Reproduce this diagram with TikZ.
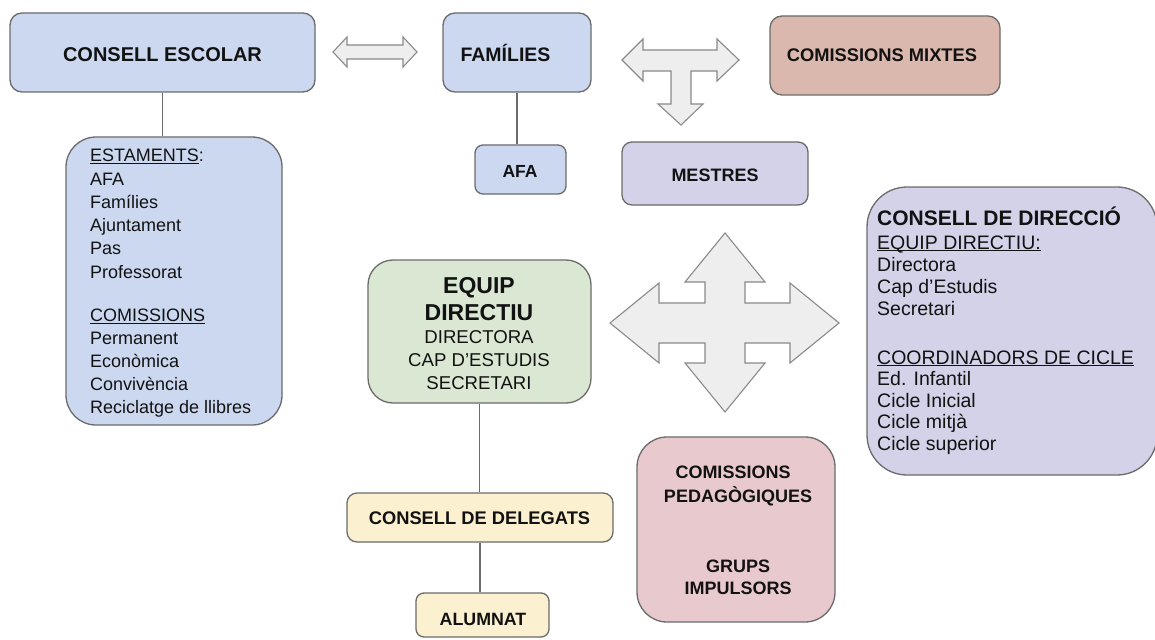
\documentclass[tikz,border=0pt]{standalone}
\usepackage{fontspec}
\setmainfont{Liberation Sans}
\definecolor{bluebox}{HTML}{CBD8F0}
\definecolor{lavbox}{HTML}{D3D2E8}
\definecolor{rosebox}{HTML}{DAB8AE}
\definecolor{greenbox}{HTML}{D9E7D3}
\definecolor{yellowbox}{HTML}{FBF0CF}
\definecolor{pinkbox}{HTML}{E8C9CD}
\definecolor{arrowfill}{HTML}{EEEEEE}
\definecolor{arrowline}{HTML}{8A8A8A}
\definecolor{boxline}{HTML}{6B6B6B}
\definecolor{txtc}{HTML}{121212}
\newcommand{\myul}[1]{\setbox0\hbox{#1}\rlap{\rule[-2.2pt]{\wd0}{1.1pt}}\box0}
\begin{document}
\begin{tikzpicture}[x=1pt,y=-1pt,
  box/.style={draw=boxline, line width=1.3pt, inner sep=0pt},
  lab/.style={inner sep=0pt, text=txtc, anchor=base},
  lst/.style={inner sep=0pt, text=txtc, anchor=base west},
  conn/.style={draw=boxline, line width=1.2pt},
  bigarrow/.style={draw=arrowline, fill=arrowfill, line width=1.1pt, line join=miter}]
\useasboundingbox[fill=white] (0,0) rectangle (1155,639);

% boxes
\node[box, fill=bluebox, minimum width=305pt, minimum height=79pt, rounded corners=12pt] (ce) at (162.5,52.5) {};
\node[box, fill=bluebox, minimum width=216pt, minimum height=288pt, rounded corners=30pt] (est) at (174,281) {};
\node[box, fill=bluebox, minimum width=148pt, minimum height=79pt, rounded corners=12pt] (fam) at (517,52.5) {};
\node[box, fill=bluebox, minimum width=91pt, minimum height=49pt, rounded corners=8pt] (afa) at (520.5,169.5) {};
\node[box, fill=rosebox, minimum width=230pt, minimum height=79pt, rounded corners=12pt] (cm) at (885,55.5) {};
\node[box, fill=lavbox, minimum width=186pt, minimum height=63pt, rounded corners=10pt] (mes) at (715,173.5) {};
\node[box, fill=lavbox, minimum width=290pt, minimum height=288pt, rounded corners=40pt] (cdd) at (1012,331) {};
\node[box, fill=greenbox, minimum width=223pt, minimum height=143pt, rounded corners=25pt] (ed) at (479.5,331.5) {};
\node[box, fill=yellowbox, minimum width=266pt, minimum height=49pt, rounded corners=10pt] (cdel) at (480,517.5) {};
\node[box, fill=yellowbox, minimum width=133pt, minimum height=44pt, rounded corners=8pt] (alu) at (482.5,615) {};
\node[box, fill=pinkbox, minimum width=198pt, minimum height=185pt, rounded corners=30pt] (ped) at (736,529.5) {};

% connectors
\draw[conn] (ce.south) -- (ce.south |- est.north);
\draw[conn] (fam.south) -- (fam.south |- afa.north);
\draw[conn] (ed.south) -- (ed.south |- cdel.north);
\draw[conn] (cdel.south) -- (cdel.south |- alu.north);

% block arrows
\draw[bigarrow] (333,52) -- (347,37) -- (347,45) -- (403,45) -- (403,37) -- (417,52) -- (403,67) -- (403,59) -- (347,59) -- (347,67) -- cycle;
\draw[bigarrow] (622,60) -- (643,39) -- (643,50) -- (717,50) -- (717,39) -- (739,60) -- (717,81) -- (717,71) -- (691,71) -- (691,104) -- (703,104) -- (681,125) -- (658,104) -- (671,104) -- (671,71) -- (643,71) -- (643,81) -- cycle;
\draw[bigarrow] (610,323) -- (659,283) -- (659,303) -- (705,303) -- (705,282) -- (685,282) -- (725,233) -- (765,282) -- (745,282) -- (745,303) -- (790,303) -- (790,283) -- (839,323) -- (790,363) -- (790,343) -- (745,343) -- (745,363) -- (765,363) -- (725,412) -- (685,363) -- (705,363) -- (705,343) -- (659,343) -- (659,363) -- cycle;

% single labels
\node[lab, font=\fontsize{20}{24}\selectfont\bfseries] (tce) at (162.5,61.7) {CONSELL ESCOLAR};
\node[lab, font=\fontsize{19.5}{23}\selectfont\bfseries] (tfam) at (505.5,61.7) {FAMÍLIES};
\node[lab, font=\fontsize{17.5}{21}\selectfont\bfseries] (tafa) at (520,177) {AFA};
\node[lab, font=\fontsize{18}{22}\selectfont\bfseries] (tmes) at (715,182) {MESTRES};
\node[lab, font=\fontsize{18.3}{22}\selectfont\bfseries] (tcm) at (882,62) {COMISSIONS MIXTES};
\node[lab, font=\fontsize{18.3}{22}\selectfont\bfseries] (tcdel) at (479.5,524) {CONSELL DE DELEGATS};
\node[lab, font=\fontsize{17.8}{21}\selectfont\bfseries] (talu) at (483,625) {ALUMNAT};

% equip directiu
\node[lab, font=\fontsize{23}{27}\selectfont\bfseries] (ed1) at (479,293) {EQUIP};
\node[lab, font=\fontsize{23}{27}\selectfont\bfseries] (ed2) at (479,320) {DIRECTIU};
\node[lab, font=\fontsize{18.6}{22}\selectfont] (ed3) at (479,343) {DIRECTORA};
\node[lab, font=\fontsize{18.6}{22}\selectfont] (ed4) at (479,366) {CAP D’ESTUDIS};
\node[lab, font=\fontsize{18.6}{22}\selectfont] (ed5) at (479,389) {SECRETARI};

% comissions pedagogiques
\node[lab, font=\fontsize{18}{22}\selectfont\bfseries] (p1) at (733,478) {COMISSIONS};
\node[lab, font=\fontsize{18}{22}\selectfont\bfseries] (p2) at (738,502) {PEDAGÒGIQUES};
\node[lab, font=\fontsize{18}{22}\selectfont\bfseries] (p3) at (738,572) {GRUPS};
\node[lab, font=\fontsize{18}{22}\selectfont\bfseries] (p4) at (738,594) {IMPULSORS};

% estaments list
\foreach \t/\y [count=\i] in {{\myul{ESTAMENTS}:}/162, AFA/185.2, Famílies/208.4, Ajuntament/231.6, Pas/254.8, Professorat/278, {\myul{COMISSIONS}}/321.5, Permanent/344.5, Econòmica/367.5, Convivència/390.5, Reciclatge de llibres/413.5}
  \node[lst, font=\fontsize{18}{22}\selectfont] (e\i) at (90,\y) {\t};

% consell de direccio
\node[lst, font=\fontsize{21}{25}\selectfont\bfseries] (cdt) at (877,225.5) {CONSELL DE DIRECCIÓ};
\foreach \t/\y [count=\i] in {{\myul{EQUIP DIRECTIU:}}/249, Directora/271, Cap d'Estudis/293, Secretari/315, {\myul{COORDINADORS DE CICLE}}/364, Ed. Infantil/385.5, Cicle Inicial/407, Cicle mitjà/428.5, Cicle superior/450}
  \node[lst, font=\fontsize{19.5}{22}\selectfont] (c\i) at (877,\y) {\t};
\end{tikzpicture}
\end{document}
